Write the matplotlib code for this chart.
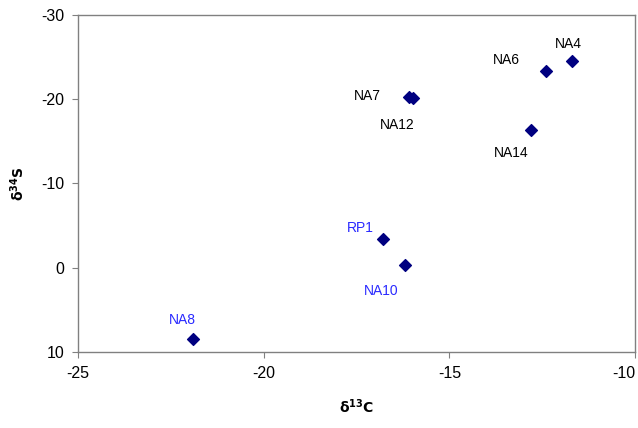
import matplotlib.pyplot as plt

plt.rcParams['font.family'] = ['Liberation Sans', 'DejaVu Sans']
plt.rcParams['axes.unicode_minus'] = False

names = ['NA4', 'NA6', 'NA7', 'NA12', 'NA14', 'RP1', 'NA10', 'NA8']
d13c = [-11.7, -12.4, -16.08, -15.98, -12.8, -16.8, -16.2, -21.9]
d34s = [-24.5, -23.4, -20.25, -20.1, -16.35, -3.4, -0.3, 8.45]
label_colors = ['black', 'black', 'black', 'black', 'black', '#2a2aff', '#2a2aff', '#2a2aff']
# label offsets in pixels from the marker
offsets = [(-4, 17), (-40, 11), (-42, 1), (-16, -27), (-20, -23), (-22, 11), (-24, -26), (-11, 19)]

fig = plt.figure(figsize=(6.38, 4.28), dpi=100)
ax = fig.add_axes([0.1223, 0.1776, 0.8730, 0.7874])

ax.scatter(d13c, d34s, marker='D', s=36, color='#000080', zorder=3)

for name, x, y, c, off in zip(names, d13c, d34s, label_colors, offsets):
    ax.annotate(name, (x, y), xytext=off, textcoords='offset pixels',
                ha='center', va='center', fontsize=10, color=c)

ax.set_xlim(-25, -10)
ax.set_ylim(10, -30)
ax.set_xticks([-25, -20, -15, -10])
ax.set_yticks([10, 0, -10, -20, -30])

for s in ax.spines.values():
    s.set_color('#808080')
    s.set_linewidth(1.0)
ax.tick_params(direction='out', length=4, color='#808080', labelsize=11.5, pad=6)
ax.get_xticklabels()[-1].set_ha('right')

ax.set_xlabel(r'$\mathbf{\delta^{13}C}$', fontsize=10, labelpad=12)
ax.set_ylabel(r'$\mathbf{\delta^{34}S}$', fontsize=10, labelpad=10)

fig.savefig('out.png', dpi=100)
